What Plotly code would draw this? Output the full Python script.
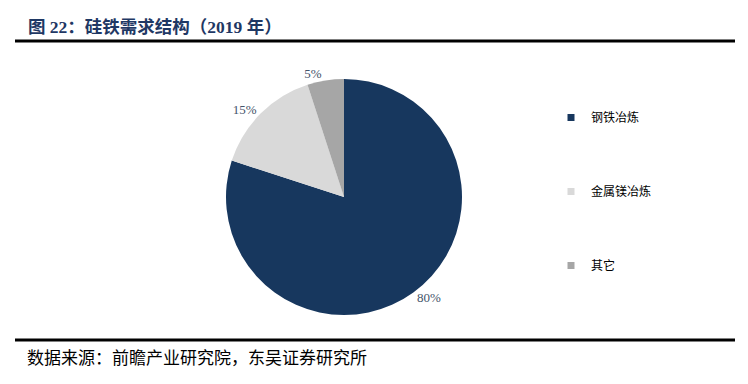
import plotly.graph_objects as go

categories = ["钢铁冶炼", "金属镁冶炼", "其它"]
values = [80, 15, 5]
colors = ["#17375E", "#D9D9D9", "#A6A6A6"]

# page has an 8px body margin; figure sized to fit inside the window
OFF = 8
W, H = 748 - 2 * OFF, 384 - 2 * OFF
def px(x): return (x - OFF) / W
def py(y): return 1 - (y - OFF) / H

cx, cy, R = 344, 197, 118

fig = go.Figure()
fig.add_trace(go.Pie(
    labels=categories, values=values, sort=False, direction="clockwise", rotation=0,
    marker=dict(colors=colors, line=dict(width=0)),
    textinfo="percent", textposition="outside",
    texttemplate="%{percent:.0%}",
    outsidetextfont=dict(family="Liberation Serif", size=13, color="#44546A"),
    showlegend=False,
    domain=dict(x=[px(cx - R), px(cx + R)], y=[py(cy + R), py(cy - R)]),
))

for c, col in zip(categories, colors):
    fig.add_trace(go.Scatter(
        x=[None], y=[None], mode="markers", name=c, legendgroup=c,
        marker=dict(symbol="square", size=7, color=col),
    ))

fig.update_layout(
    width=W, height=H, margin=dict(l=0, r=0, t=0, b=0),
    paper_bgcolor="white", plot_bgcolor="white",
    xaxis=dict(visible=False), yaxis=dict(visible=False),
    legend=dict(x=px(551), y=py(103), xanchor="left", yanchor="top",
                font=dict(family="Noto Sans CJK SC", size=12, color="#000000"),
                tracegroupgap=55, itemwidth=30, bgcolor="rgba(0,0,0,0)"),
    shapes=[
        dict(type="line", xref="paper", yref="paper", x0=px(15), x1=px(735), y0=py(41), y1=py(41),
             line=dict(color="black", width=3)),
        dict(type="line", xref="paper", yref="paper", x0=px(15), x1=px(735), y0=py(340), y1=py(340),
             line=dict(color="black", width=3)),
    ],
    annotations=[
        dict(text="<b>图 22：硅铁需求结构（2019 年）</b>", xref="paper", yref="paper",
             x=px(26), y=py(27), xanchor="left", yanchor="middle", showarrow=False,
             font=dict(family="Liberation Serif, Noto Sans CJK SC", size=17.5, color="#1F3864")),
        dict(text="数据来源：前瞻产业研究院，东吴证券研究所", xref="paper", yref="paper",
             x=px(25), y=py(356), xanchor="left", yanchor="middle", showarrow=False,
             font=dict(family="Noto Sans CJK SC", size=17, color="#000000")),
    ],
)

fig.write_html("out.html")
